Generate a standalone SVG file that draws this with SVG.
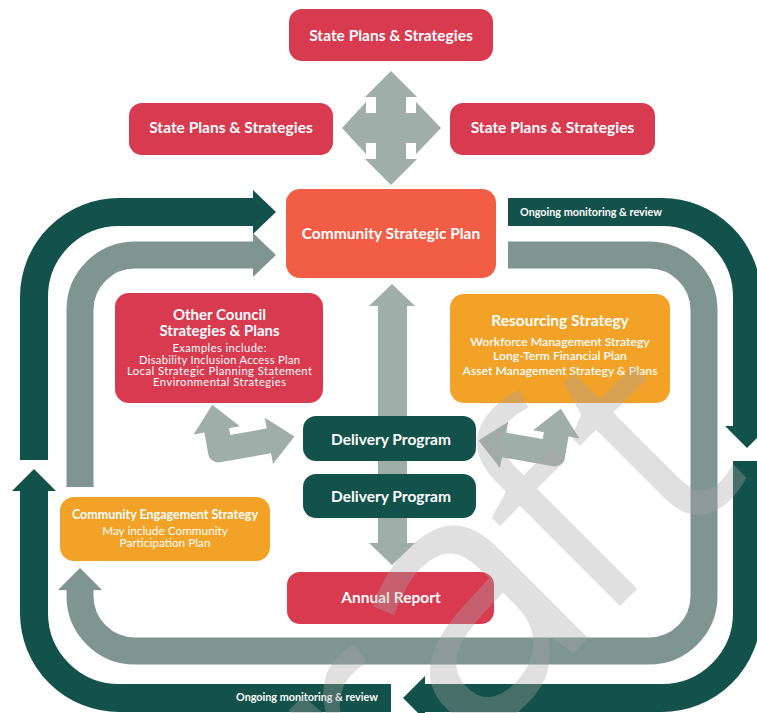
<svg xmlns="http://www.w3.org/2000/svg" width="757" height="713" viewBox="0 0 757 713">
<style>
.red{fill:#d83a50}
.csp{fill:#f15d45}
.org{fill:#f2a226}
.dg{fill:#13524a}
.lt{fill:#a0aeaa}
.dk{fill:none;stroke:#13524a;stroke-width:28}
.dkh{fill:#13524a}
.md{fill:none;stroke:#7f9690;stroke-width:27}
.mdh{fill:#7f9690}
text{font-family:Lato,"Open Sans","Liberation Sans",sans-serif;fill:#fff;text-anchor:middle}
.t{font-size:15.5px;font-weight:700}
.t2{font-size:15px;font-weight:700}
.s{font-size:11.2px;font-weight:400}
.sm{font-size:12.2px;font-weight:600}
.ce{font-size:12.5px;font-weight:700}
.s2{font-size:11.8px;font-weight:400}
.mon{font-size:10.8px;font-weight:700;text-anchor:start}
.wm{font-family:"Open Sans",sans-serif;font-size:300px;font-weight:400;fill:#a6a6a6;fill-opacity:0.35;text-anchor:start}
</style>
<rect width="757" height="713" fill="#fff"/>
<g id="connectors">
<path class="dk" d="M34,460 V297 A85,85 0 0 1 119,212 H254"/>
<polygon class="dkh" points="253,190 276,212 253,234"/>
<path class="dk" d="M508,212 H662 A85,85 0 0 1 747,297 V427"/>
<polygon class="dkh" points="725,426 769,426 747,448"/>
<path class="dk" d="M747,461 V613 A85,85 0 0 1 662,698 H424"/>
<polygon class="dkh" points="425,676 425,720 403,698"/>
<path class="dk" d="M391,698 H119 A85,85 0 0 1 34,613 V490"/>
<polygon class="dkh" points="12,491 56,491 34,469"/>
<path class="md" d="M80,487 V310 A55,55 0 0 1 135,255 H254"/>
<polygon class="mdh" points="253,233 276,255 253,277"/>
<path class="md" d="M508,255 H649 A55,55 0 0 1 704,310 V596 A55,55 0 0 1 649,651 H135 A55,55 0 0 1 80,596 V589"/>
<polygon class="mdh" points="58,590 102,590 80,568"/>
<polygon class="lt" points="391,71 417,97 406,97 406,113 416,113 416,102 441,128 416,154 416,143 406,143 406,159 417,159 391,185 365,159 376,159 376,143 366,143 366,154 342,128 366,102 366,113 376,113 376,97 365,97"/>
<polygon class="lt" points="392,284 415,306 407,306 407,543 415,543 392,565 369,543 378,543 378,306 369,306"/>
<path class="lt" transform="translate(210,464) rotate(-10)" d="M10,0 A10,10 0 0 1 0,-10 V-32 H-11 L12.5,-58 L36,-32 H25 V-25 H62 V-36 L88,-12.5 L62,11 V0 Z"/>
<path class="lt" transform="translate(563,468) scale(-1,1) rotate(-10)" d="M10,0 A10,10 0 0 1 0,-10 V-32 H-11 L12.5,-58 L36,-32 H25 V-25 H62 V-36 L88,-12.5 L62,11 V0 Z"/>
<text class="mon" x="520" y="216">Ongoing monitoring &amp; review</text>
<text class="mon" x="236" y="701">Ongoing monitoring &amp; review</text>
</g>
<g id="state-top"><rect class="red" x="289" y="9" width="204" height="52" rx="13"/><text class="t" x="391" y="41">State Plans &amp; Strategies</text></g>
<g id="state-left"><rect class="red" x="129" y="103" width="204" height="52" rx="13"/><text class="t" x="231" y="133">State Plans &amp; Strategies</text></g>
<g id="state-right"><rect class="red" x="450" y="103" width="205" height="52" rx="13"/><text class="t" x="552.5" y="133">State Plans &amp; Strategies</text></g>
<g id="csp"><rect class="csp" x="286" y="189" width="210" height="89" rx="14"/><text class="t" x="391" y="239">Community Strategic Plan</text></g>
<g id="other-council"><rect class="red" x="115" y="293" width="208" height="110" rx="14"/>
<text class="t2" x="219.5" y="320">Other Council</text>
<text class="t2" x="219.5" y="336">Strategies &amp; Plans</text>
<text class="s" x="219.5" y="352" textLength="94">Examples include:</text>
<text class="s" x="219.5" y="363.5" textLength="161">Disability Inclusion Access Plan</text>
<text class="s" x="219.5" y="374.5" textLength="185">Local Strategic Planning Statement</text>
<text class="s" x="219.5" y="385.5" textLength="133">Environmental Strategies</text></g>
<g id="resourcing"><rect class="org" x="450" y="294" width="220" height="109" rx="14"/>
<text class="t" x="560" y="326">Resourcing Strategy</text>
<text class="sm" x="560" y="346">Workforce Management Strategy</text>
<text class="sm" x="560" y="360">Long-Term Financial Plan</text>
<text class="sm" x="560" y="374.5">Asset Management Strategy &amp; Plans</text></g>
<g id="delivery-1"><rect class="dg" x="303" y="416" width="173" height="45" rx="13"/><text class="t" x="391" y="444.5">Delivery Program</text></g>
<g id="delivery-2"><rect class="dg" x="303" y="474" width="173" height="44" rx="13"/><text class="t" x="391" y="502">Delivery Program</text></g>
<g id="annual"><rect class="red" x="287" y="572" width="207" height="52" rx="13"/><text class="t" x="391" y="603">Annual Report</text></g>
<g id="engagement"><rect class="org" x="60" y="497" width="210" height="64" rx="14"/>
<text class="ce" x="165" y="519">Community Engagement Strategy</text>
<text class="s2" x="165" y="535">May include Community</text>
<text class="s2" x="165" y="547">Participation Plan</text></g>
<text class="wm" x="230" y="996" transform="rotate(-45,230,996)">Dr<tspan font-size="350">a</tspan><tspan dx="-16">f</tspan><tspan dx="12">t</tspan></text>
</svg>
